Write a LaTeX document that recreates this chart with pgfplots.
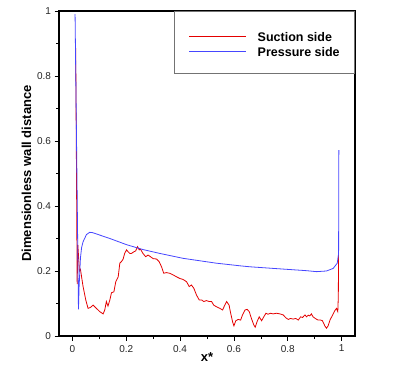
\documentclass[border=0pt]{standalone}
\usepackage{fontspec}
\setmainfont{Liberation Sans}
\usepackage{pgfplots}
\pgfplotsset{compat=1.18}

\definecolor{suction}{RGB}{228,0,0}
\definecolor{pressure}{RGB}{70,70,255}

\begin{document}
\begin{tikzpicture}[x=1pt,y=1pt]
\begin{axis}[
    at={(59pt,30pt)}, anchor=south west,
    scale only axis,
    width=296pt, height=325pt,
    xmin=-0.05, xmax=1.05,
    ymin=0, ymax=1,
    xtick={0,0.2,...,1}, ytick={0,0.2,...,1},
    minor x tick num=1, minor y tick num=1,
    xtick pos=bottom, ytick pos=left,
    tick align=outside,
    major tick length=4.5pt, minor tick length=3pt,
    axis line style={line width=1.1pt},
    every tick/.style={black, line width=0.6pt},
    /pgf/number format/assume math mode=true,
    tick label style={font=\fontsize{10}{12}\selectfont, text=black!85},
    xticklabel style={yshift=-1pt},
    xlabel={\textbf{x*}},
    ylabel={\textbf{Dimensionless wall distance}},
    label style={font=\fontsize{13}{15}\selectfont},
    xlabel style={yshift=6pt},
    ylabel style={yshift=-1pt},
    legend style={at={(1,1)}, anchor=north east,
        draw=black!55, line width=0.6pt,
        inner xsep=15pt, inner ysep=14pt,
        row sep=-4pt,
        font=\fontsize{12.5}{14}\selectfont\bfseries,
        nodes={inner sep=0pt, text height=16.5pt, text depth=2.5pt},
        column sep=11pt},
    legend cell align=left,
    legend image code/.code={%
        \draw[mark repeat=2,mark phase=2,#1]
            plot coordinates {(0pt,-1.5pt) (28.5pt,-1.5pt) (57pt,-1.5pt)};},
]
\addplot[color=suction, line width=0.8pt] table {
0.0120 0.886
0.0150 0.50
0.0175 0.16
0.0200 0.28
0.0230 0.24
0.0260 0.20
0.0297 0.205
0.0395 0.152
0.0494 0.111
0.0580 0.085
0.0670 0.088
0.0767 0.095
0.0890 0.085
0.1015 0.075
0.1140 0.068
0.1200 0.080
0.1260 0.106
0.1320 0.092
0.1390 0.111
0.1450 0.133
0.1540 0.136
0.1610 0.167
0.1700 0.182
0.1760 0.224
0.1820 0.229
0.1880 0.236
0.1940 0.254
0.2010 0.265
0.2070 0.259
0.2130 0.254
0.2190 0.254
0.2280 0.259
0.2350 0.262
0.2420 0.275
0.2480 0.265
0.2530 0.267
0.2620 0.254
0.2720 0.244
0.2810 0.249
0.2900 0.244
0.3000 0.238
0.3120 0.237
0.3220 0.229
0.3310 0.213
0.3390 0.193
0.3490 0.195
0.3620 0.193
0.3740 0.188
0.3870 0.182
0.3990 0.177
0.4110 0.174
0.4240 0.167
0.4340 0.152
0.4420 0.157
0.4510 0.147
0.4610 0.126
0.4710 0.111
0.4800 0.111
0.4880 0.106
0.4980 0.109
0.5080 0.106
0.5170 0.106
0.5250 0.095
0.5350 0.090
0.5480 0.085
0.5580 0.080
0.5660 0.095
0.5730 0.106
0.5820 0.095
0.5880 0.070
0.5950 0.044
0.6000 0.031
0.6070 0.047
0.6160 0.051
0.6250 0.049
0.6320 0.065
0.6410 0.080
0.6490 0.082
0.6570 0.075
0.6650 0.054
0.6740 0.034
0.6790 0.027
0.6860 0.044
0.6940 0.059
0.7030 0.047
0.7110 0.059
0.7190 0.070
0.7270 0.067
0.7360 0.070
0.7460 0.068
0.7580 0.070
0.7710 0.068
0.7830 0.065
0.7930 0.056
0.8020 0.051
0.8100 0.054
0.8200 0.052
0.8300 0.054
0.8390 0.049
0.8480 0.059
0.8550 0.057
0.8640 0.065
0.8700 0.059
0.8760 0.064
0.8820 0.062
0.8880 0.068
0.8940 0.059
0.9040 0.053
0.9130 0.049
0.9220 0.049
0.9290 0.047
0.9380 0.031
0.9440 0.024
0.9500 0.031
0.9570 0.049
0.9670 0.065
0.9750 0.078
0.9810 0.085
0.9860 0.075
0.9880 0.121
0.9890 0.275
};
\addlegendentry{Suction side}
\addplot[color=pressure, line width=0.8pt] table {
0.0097 0.990
0.0160 0.540
0.0223 0.082
0.0247 0.152
0.0297 0.240
0.0340 0.272
0.0395 0.290
0.0520 0.312
0.0640 0.319
0.0750 0.318
0.0890 0.314
0.1390 0.300
0.2010 0.281
0.2620 0.266
0.3250 0.254
0.4110 0.239
0.5350 0.224
0.6220 0.216
0.6590 0.213
0.7460 0.208
0.8700 0.201
0.9070 0.198
0.9440 0.200
0.9690 0.208
0.9840 0.224
0.9890 0.254
0.9900 0.572
};
\addlegendentry{Pressure side}
\end{axis}
\pgfresetboundingbox
\path[use as bounding box] (0,0) rectangle (411,366);
\end{tikzpicture}
\end{document}
